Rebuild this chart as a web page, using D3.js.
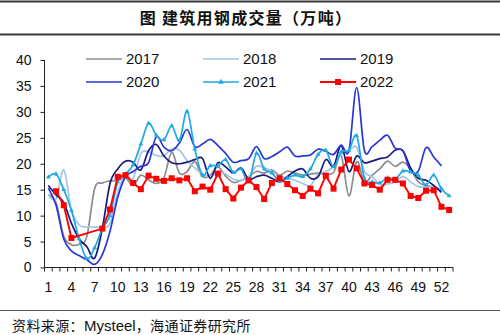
<!DOCTYPE html>
<html><head><meta charset="utf-8">
<script src="https://cdn.jsdelivr.net/npm/d3@7/dist/d3.min.js"></script>
<style>
html,body{margin:0;padding:0;background:#fff;}
svg{display:block;}
</style></head>
<body>
<svg id="c" width="500" height="335"></svg>
<script>
const weeks = [1,2,3,4,5,6,7,8,9,10,11,12,13,14,15,16,17,18,19,20,21,22,23,24,25,26,27,28,29,30,31,32,33,34,35,36,37,38,39,40,41,42,43,44,45,46,47,48,49,50,51,52,53];
const xTickLabels = [1,4,7,10,13,16,19,22,25,28,31,34,37,40,43,46,49,52];
const yTickLabels = [0,5,10,15,20,25,30,35,40];

const s2017 = [14,12.5,6,4.4,4.5,6,15.2,16.3,16.7,16.8,17.3,15.8,17.8,16.9,16.2,17.3,22.2,18.2,18.5,20.4,17.5,17.8,19.4,17.6,16.4,16.8,17.5,18.5,18.2,18.8,17.8,18.6,18.2,17.8,18,18.2,18,18.3,21.5,13.8,20.4,16.5,17.8,19,20.5,19.5,20.3,19,16.5,15.8,15.5,15,null];
const s2018 = [14,13.2,18.8,11,8.2,7.8,7.8,7.8,8.5,14.5,17.8,17.2,22,22.3,21.6,21.5,22.9,22.6,20.6,19.2,18,17.6,18.5,18,17,16.8,17.5,19.5,19.2,18.5,17.5,17.3,16.8,16.2,15.8,18,18.5,19.5,21.8,22.5,23.2,18.5,17.5,16,16.1,16.5,17.5,16.5,15.6,15.5,15.5,14.8,null];
const s2019 = [15.8,14,12.5,8.5,5.5,4,1.8,7.5,16.2,19,20.5,20.3,18.8,22.5,23.7,21.5,20.2,20,20.3,20.8,21,17.2,20.2,19.4,18.2,19.2,17,17.5,17.8,17.2,16.5,17.5,18.6,19,17.2,17.5,20.8,19.5,23.5,18.5,21.5,20.2,20.5,21,21.3,22.6,22.5,19.2,17.2,16.8,15.8,14.5,null];
const s2020 = [15.3,12,5.5,3.2,2.3,1.5,0.6,2.5,7,13.5,17.5,18.5,19.5,20.2,25.2,23.2,22.5,24,26.6,23.3,23.8,24.7,23.5,22,20.3,20.6,21,23.3,21,21.4,22.3,23.2,21.5,21.5,21.7,22.8,22.4,21.8,23.6,22.5,34.7,22.6,23.3,24.5,25.5,23,22.5,18.6,18.6,23.1,21.3,19.6,null];
const s2021 = [17.4,18,15,11,5.5,1.7,3.8,7.5,10,16.5,18,19.8,23.8,27.8,25.5,24.6,27.3,24.5,30.1,22.8,17.8,19.6,19.6,20.8,18.3,19,16.5,22,19,18.2,16.6,17.2,17.8,17.5,19,21.8,22.6,19.4,22.3,22.6,25.4,17.2,16.5,16.3,17.3,17,18.6,18.4,17.8,15.9,17.8,15.2,13.8];
const s2022 = [null,14.7,12,5.7,null,null,null,7.5,11.2,17.5,17.8,16.3,15.1,17.7,17.1,16.7,17.2,16.8,17.2,14.7,15.6,15,18.1,15.1,13.3,15.4,16.8,15.5,13.2,16.3,17.2,16.1,14.9,13.8,15.2,14.3,17.7,15.2,18.9,20.8,19.1,16.2,15.9,15,16.9,16.9,16.2,13.8,13.4,14.8,14.9,11.7,11.1];

const seriesNames = ["2017","2018","2019","2020","2021","2022"];
const seriesData = [s2017,s2018,s2019,s2020,s2021,s2022];
const colors = ["#8c8c8c","#a3c6ea","#1a1a7e","#2a36d6","#1ea9e1","#ff0000"];

const svg = d3.select("#c");
const W = 500, H = 335;

// title & rules
svg.append("line").attr("x1",0).attr("x2",W).attr("y1",1.5).attr("y2",1.5).attr("stroke","#3a3a3a").attr("stroke-width",2);
svg.append("line").attr("x1",0).attr("x2",W).attr("y1",34.5).attr("y2",34.5).attr("stroke","#3a3a3a").attr("stroke-width",2);
svg.append("text").attr("x",246).attr("y",24).attr("text-anchor","middle")
  .attr("font-family","'Noto Sans CJK SC'").attr("font-weight","bold").attr("font-size",16)
  .attr("letter-spacing","1.3px").attr("fill","#111").text("图  建筑用钢成交量（万吨）");

// footer
svg.append("line").attr("x1",0).attr("x2",W).attr("y1",310.5).attr("y2",310.5).attr("stroke","#555").attr("stroke-width",1);
const ft = svg.append("text").attr("x",12).attr("y",331).attr("font-family","'Noto Sans CJK SC'").attr("font-size",14).attr("letter-spacing","0.4px").attr("fill","#111");
ft.append("tspan").text("资料来源：");
ft.append("tspan").attr("font-family","'Liberation Sans', Arial").attr("font-size",15).attr("letter-spacing","0px").text("Mysteel");
ft.append("tspan").text("，海通证券研究所");

const x = d3.scaleBand().domain(weeks).range([44.5,453]).padding(0);
const cx = w => x(w) + x.bandwidth()/2;
const y = d3.scaleLinear().domain([0,40]).range([267.5,60]);

// y axis
const ya = svg.append("g").attr("transform","translate(44.5,0)")
  .call(d3.axisLeft(y).tickValues(yTickLabels).tickSize(4).tickPadding(9));
ya.select(".domain").attr("stroke","#222").attr("d","M0,"+y(40)+"V"+y(0));
ya.selectAll(".tick line").attr("stroke","#222");
ya.selectAll("text").attr("font-family","'Liberation Sans', Arial").attr("font-size",14).attr("fill","#111");

// x axis
const xa = svg.append("g").attr("transform","translate(0,"+y(0)+")");
xa.append("line").attr("x1",44.5).attr("x2",453).attr("y1",0).attr("y2",0).attr("stroke","#222");
xa.selectAll("line.tk").data(weeks.concat([null])).enter().append("line").attr("class","tk")
  .attr("x1",(d,i)=> i<weeks.length ? x(d) : x(weeks[weeks.length-1])+x.bandwidth())
  .attr("x2",(d,i)=> i<weeks.length ? x(d) : x(weeks[weeks.length-1])+x.bandwidth())
  .attr("y1",0).attr("y2",4).attr("stroke","#222");
xa.selectAll("text").data(xTickLabels).enter().append("text")
  .attr("x",d=>cx(d)).attr("y",24).attr("text-anchor","middle")
  .attr("font-family","'Liberation Sans', Arial").attr("font-size",14).attr("fill","#111").text(d=>d);

// lines
const smooth = d3.line().defined(d=>d[1]!=null).x(d=>cx(d[0])).y(d=>y(d[1])).curve(d3.curveCardinal.tension(0));
const straight = d3.line().x(d=>cx(d[0])).y(d=>y(d[1]));
const plot = svg.append("g");
seriesData.forEach((arr,i)=>{
  const pts = weeks.map((w,j)=>[w,arr[j]]);
  if (i<5) {
    plot.append("path").attr("d",smooth(pts)).attr("fill","none").attr("stroke",colors[i]).attr("stroke-width",1.7);
  } else {
    const def = pts.filter(p=>p[1]!=null);
    plot.append("path").attr("d",straight(def)).attr("fill","none").attr("stroke",colors[i]).attr("stroke-width",1.9);
    plot.selectAll("rect.m").data(def).enter().append("rect").attr("class","m")
      .attr("x",d=>cx(d[0])-3).attr("y",d=>y(d[1])-3).attr("width",6).attr("height",6).attr("fill",colors[i]);
  }
  if (i===4) {
    plot.selectAll("path.tri").data(pts.filter(p=>p[1]!=null)).enter().append("path").attr("class","tri")
      .attr("transform",d=>"translate("+cx(d[0])+","+y(d[1])+")")
      .attr("d",d3.symbol(d3.symbolTriangle,10)).attr("fill",colors[i]);
  }
});

// legend
const legX = [86,203,320], legY = [59,82];
seriesNames.forEach((n,i)=>{
  const lx = legX[i%3], ly = legY[Math.floor(i/3)];
  const g = svg.append("g");
  g.append("line").attr("x1",lx).attr("x2",lx+36).attr("y1",ly).attr("y2",ly).attr("stroke",colors[i]).attr("stroke-width",i===5?1.9:1.7);
  if (i===4) g.append("path").attr("transform","translate("+(lx+18)+","+ly+")").attr("d",d3.symbol(d3.symbolTriangle,14)).attr("fill",colors[i]);
  if (i===5) g.append("rect").attr("x",lx+15).attr("y",ly-3).attr("width",6).attr("height",6).attr("fill",colors[i]);
  g.append("text").attr("x",lx+40).attr("y",ly).attr("dy","0.36em").attr("font-family","'Liberation Sans', Arial")
    .attr("font-size",15).attr("fill","#111").text(n);
});
</script>
</body></html>
